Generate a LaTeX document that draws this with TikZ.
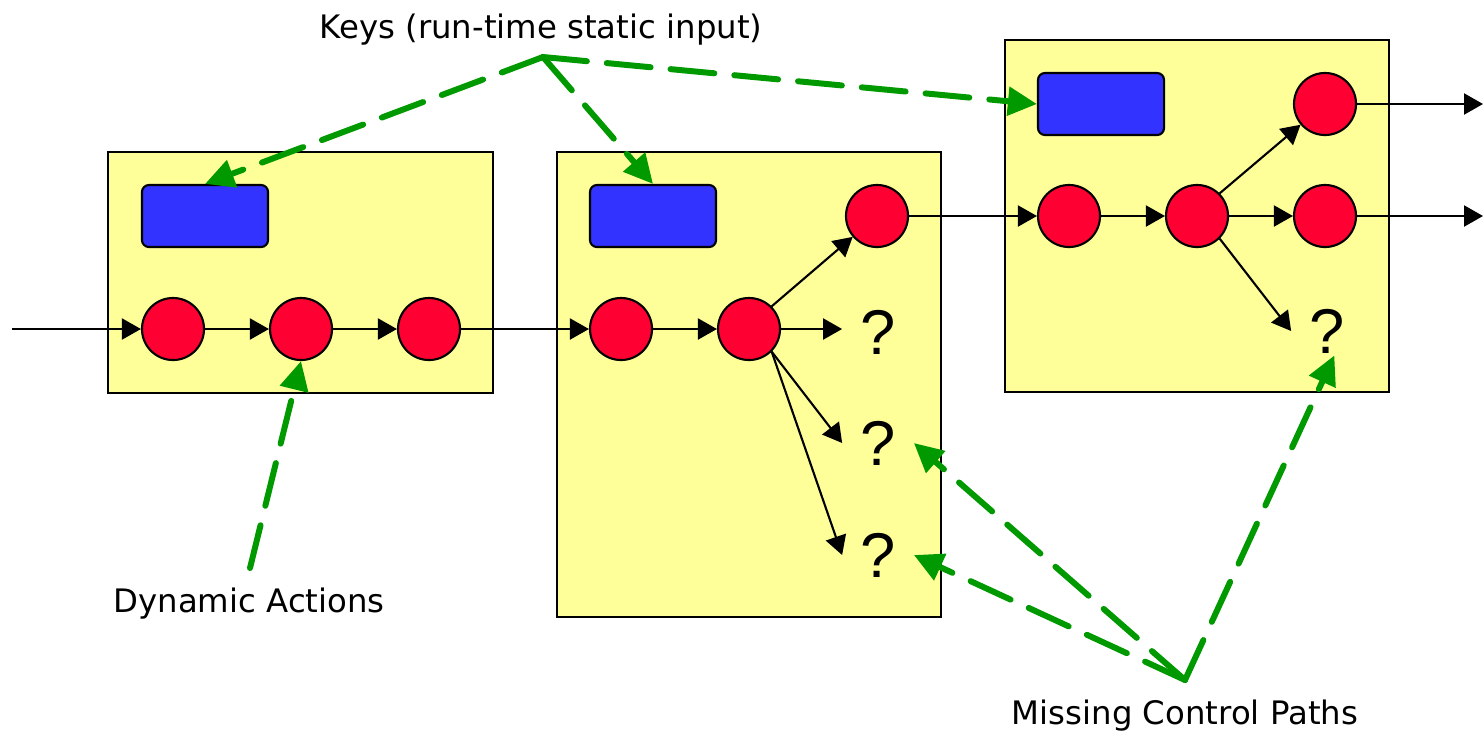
\documentclass[tikz,border=0pt]{standalone}
\usepackage{fontspec}
\setmainfont{DejaVu Sans}
\newfontfamily\qfont{Liberation Sans}
\usepackage{tikz}
\usetikzlibrary{arrows.meta}

\definecolor{boxyellow}{HTML}{FFFF99}
\definecolor{keyblue}{HTML}{3333FF}
\definecolor{statered}{HTML}{FF0033}
\definecolor{hintgreen}{HTML}{009900}

\begin{document}
\begin{tikzpicture}[x=0.01cm,y=-0.01cm,
				blk/.style={draw=black,line width=0.6pt,fill=boxyellow},
				keyb/.style={draw=black,line width=0.6pt,fill=keyblue,rounded corners=0.07cm,
					minimum width=1.26cm,minimum height=0.62cm,inner sep=0pt},
				st/.style={circle,draw=black,line width=0.6pt,fill=statered,
					minimum size=0.62cm,inner sep=0pt},
				qm/.style={font=\qfont\fontsize{18}{20}\selectfont,inner sep=5pt},
				flow/.style={draw=black,line width=0.6pt,
					-{Triangle[length=0.19cm,width=0.21cm]}},
				hint/.style={draw=hintgreen,line width=1.7pt,line cap=round,
					dash pattern=on 0.44cm off 0.2cm,
					-{Triangle[length=0.29cm,width=0.28cm]}},
				lbl/.style={font=\fontsize{9.2}{11}\selectfont}]
				\useasboundingbox (0,0) rectangle (1483,739);

				%%%%%%%%%%%%%%%%  first box  %%%%%%%%%%%%%%%%
				\draw[blk] (108,152) rectangle (493,393);
				\node[keyb] (k1) at (205,216) {};
				\foreach \i/\x in {1/173,2/301,3/429}
					\node[st] (c1\i) at (\x,329) {};
				\coordinate (in) at (12,329);
				\draw[flow] (in) -- (c11);
				\draw[flow] (c11) -- (c12);
				\draw[flow] (c12) -- (c13);

				%%%%%%%%%%%%%%%%  second box  %%%%%%%%%%%%%%%%
				\draw[blk] (557,152) rectangle (941,617);
				\node[keyb] (k2) at (653,216) {};
				\node[st] (c21) at (621,329) {};
				\node[st] (c22) at (749,329) {};
				\node[st] (c23) at (877,216) {};
				\node[qm] (q21) at (878,332) {?};
				\node[qm] (q22) at (878,443) {?};
				\node[qm] (q23) at (878,555) {?};
				\draw[flow] (c13) -- (c21);
				\draw[flow] (c21) -- (c22);
				\draw[flow] (c22.45) -- (c23);
				\draw[flow] (c22.east) -- (c22.east -| q21.west);
				\draw[flow] (c22.-45) -- (q22.west);
				\draw[flow] (c22.-45) -- (q23.west);

				%%%%%%%%%%%%%%%%  third box  %%%%%%%%%%%%%%%%
				\draw[blk] (1005,40) rectangle (1389,392);
				\node[keyb] (k3) at (1101,104) {};
				\node[st] (c31) at (1069,216) {};
				\node[st] (c32) at (1197,216) {};
				\node[st] (c33) at (1325,104) {};
				\node[st] (c34) at (1325,216) {};
				\node[qm] (q31) at (1327,331) {?};
				\coordinate (out1) at (1483,104);
				\coordinate (out2) at (1483,216);
				\draw[flow] (c23) -- (c31);
				\draw[flow] (c31) -- (c32);
				\draw[flow] (c32.45) -- (c33);
				\draw[flow] (c32) -- (c34);
				\draw[flow] (c32.-45) -- (q31.west);
				\draw[flow] (c33) -- (out1);
				\draw[flow] (c34) -- (out2);

				%%%%%%%%%%%%%%%%  labels and hints  %%%%%%%%%%%%%%%%
				\node[lbl] (keys) at (541,30) {Keys (run-time static input)};
				\node[lbl] (dyn) at (249,604) {Dynamic Actions};
				\node[lbl] (miss) at (1185,716) {Missing Control Paths};
				\coordinate (khub) at (543,57);
				\coordinate (dhub) at (250,568);
				\coordinate (mhub) at (1185,680);
				\draw[hint] (khub) -- (k1.north);
				\draw[hint] (khub) -- (k2.north);
				\draw[hint] (khub) -- (k3.west);
				\draw[hint] (dhub) -- (c12.south);
				\draw[hint] (mhub) -- (q22.east);
				\draw[hint] (mhub) -- (q23.east);
				\draw[hint,shorten >=-5pt] (mhub) -- (q31.south);
\end{tikzpicture}
\end{document}
